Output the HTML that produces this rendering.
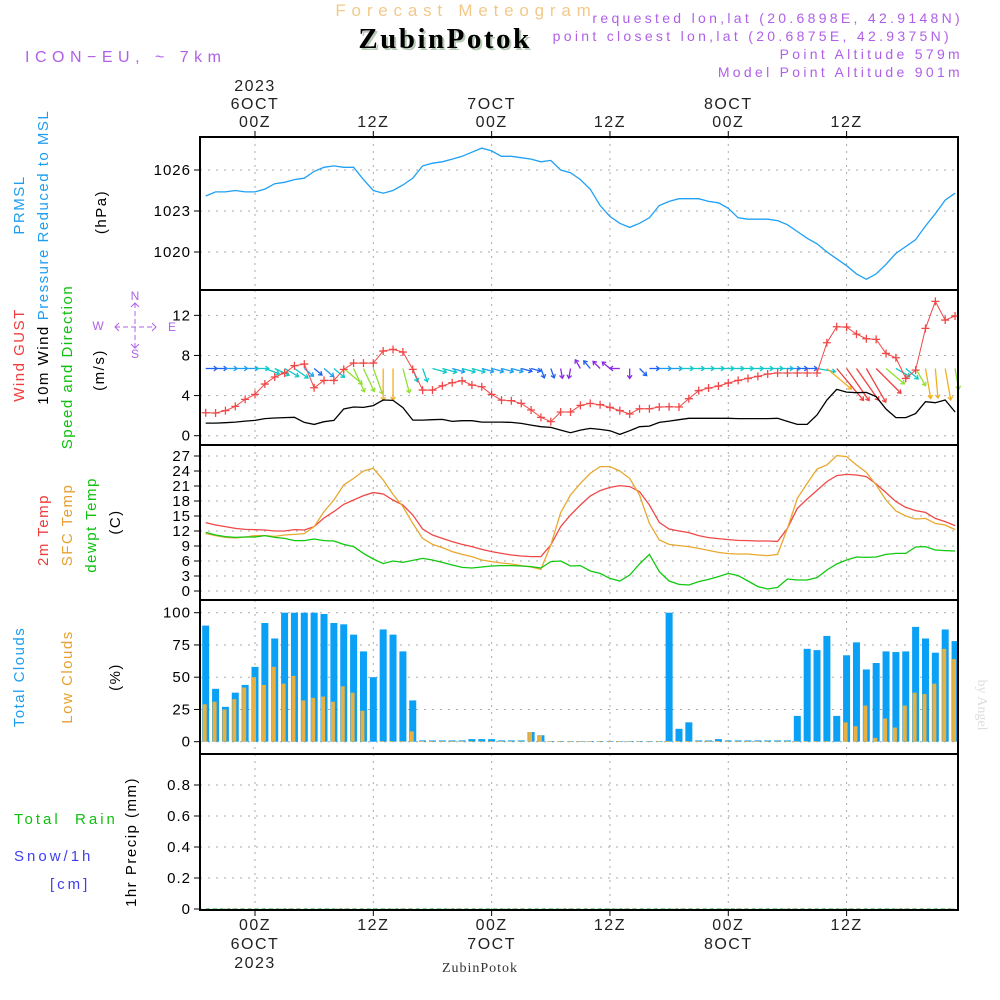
<!DOCTYPE html>
<html><head><meta charset="utf-8"><style>
html,body{margin:0;padding:0;background:#fff;}
svg{display:block;font-family:"Liberation Sans",sans-serif;}
.t{letter-spacing:1.5px;}
</style></head><body>
<svg id="chart" width="1000" height="1000" viewBox="0 0 1000 1000" xmlns="http://www.w3.org/2000/svg">
<rect width="1000" height="1000" fill="#fff"/>
<text x="466" y="16" text-anchor="middle" font-size="17" fill="#f2c98a" style="letter-spacing:5.8px">Forecast Meteogram</text>
<text x="447" y="50" text-anchor="middle" font-size="29" font-weight="bold" fill="#b8cbb8" font-family="Liberation Serif,serif" letter-spacing="2.5">ZubinPotok</text>
<text x="445" y="48" text-anchor="middle" font-size="29" font-weight="bold" fill="#000" font-family="Liberation Serif,serif" letter-spacing="2.5">ZubinPotok</text>
<text x="25" y="62" font-size="16" fill="#b060e8" letter-spacing="5.5">ICON−EU, ~ 7km</text>
<g font-size="14" fill="#b060e8" text-anchor="end" letter-spacing="3.3">
<text x="963" y="23">requested lon,lat (20.6898E, 42.9148N)</text>
<text x="952" y="41">point closest lon,lat (20.6875E, 42.9375N)</text>
<text x="963" y="59">Point Altitude 579m</text>
<text x="963" y="77">Model Point Altitude 901m</text>
</g>
<g id="plot"></g>
<g font-size="15" class="t">
<text transform="translate(24,205) rotate(-90)" text-anchor="middle" fill="#1e9ef0">PRMSL</text>
<text transform="translate(48,215) rotate(-90)" text-anchor="middle" fill="#1e9ef0">Pressure Reduced to MSL</text>
<text transform="translate(106,212) rotate(-90)" text-anchor="middle" fill="#000">(hPa)</text>
<text transform="translate(24,355) rotate(-90)" text-anchor="middle" fill="#f03c3c">Wind GUST</text>
<text transform="translate(48,365) rotate(-90)" text-anchor="middle" fill="#000">10m Wind</text>
<text transform="translate(72,367) rotate(-90)" text-anchor="middle" fill="#10c010">Speed and Direction</text>
<text transform="translate(104,370) rotate(-90)" text-anchor="middle" fill="#000">(m/s)</text>
<text transform="translate(48,530) rotate(-90)" text-anchor="middle" fill="#f03c3c">2m Temp</text>
<text transform="translate(72,525) rotate(-90)" text-anchor="middle" fill="#e8a030">SFC Temp</text>
<text transform="translate(96,525) rotate(-90)" text-anchor="middle" fill="#10c010">dewpt Temp</text>
<text transform="translate(120,522) rotate(-90)" text-anchor="middle" fill="#000">(C)</text>
<text transform="translate(24,677) rotate(-90)" text-anchor="middle" fill="#1e9ef0">Total Clouds</text>
<text transform="translate(72,677) rotate(-90)" text-anchor="middle" fill="#e8a030">Low Clouds</text>
<text transform="translate(120,677) rotate(-90)" text-anchor="middle" fill="#000">(%)</text>
<text transform="translate(136,842) rotate(-90)" text-anchor="middle" fill="#000">1hr Precip (mm)</text>
</g>
<g font-size="15" letter-spacing="3">
<text x="14" y="824" fill="#10c010" xml:space="preserve">Total  Rain</text>
<text x="14" y="861" fill="#4040f0">Snow/1h</text>
<text x="50" y="889" fill="#4040f0">[cm]</text>
</g>
<g fill="none" stroke="#b060e8" font-size="12">
<text x="135" y="300" text-anchor="middle" stroke="none" fill="#b060e8">N</text>
<text x="98" y="330" text-anchor="middle" stroke="none" fill="#b060e8">W</text>
<text x="172" y="331" text-anchor="middle" stroke="none" fill="#b060e8">E</text>
<text x="135" y="358" text-anchor="middle" stroke="none" fill="#b060e8">S</text>
<line x1="115" y1="327" x2="156" y2="327" stroke-dasharray="5,3"/>
<line x1="135" y1="303" x2="135" y2="348" stroke-dasharray="5,3"/>
<polyline points="119,323 115,327 119,331"/>
<polyline points="152,323 156,327 152,331"/>
<polyline points="131,307 135,303 139,307"/>
<polyline points="131,344 135,348 139,344"/>
</g>
<text transform="translate(978,705) rotate(90)" text-anchor="middle" font-size="14" fill="#ddd" font-family="Liberation Serif,serif">by Angel</text>
<text x="480" y="972" text-anchor="middle" font-size="14" fill="#333" font-family="Liberation Serif,serif" letter-spacing="1">ZubinPotok</text>
</svg>
<script>
const hours = [];
for (let h = -5; h <= 71; h++) hours.push(h);
const pressure = [1024.1,1024.4,1024.4,1024.5,1024.4,1024.4,1024.6,1025.0,1025.1,1025.3,1025.4,1025.9,1026.2,1026.3,1026.2,1026.2,1025.3,1024.5,1024.3,1024.5,1024.9,1025.4,1026.3,1026.5,1026.6,1026.8,1027.0,1027.3,1027.6,1027.4,1027.0,1027.0,1026.9,1026.8,1026.6,1026.7,1026.0,1025.8,1025.3,1024.6,1023.4,1022.6,1022.1,1021.8,1022.1,1022.5,1023.4,1023.7,1023.9,1023.9,1023.9,1023.7,1023.6,1023.2,1022.5,1022.4,1022.4,1022.4,1022.3,1022.0,1021.5,1021.0,1020.6,1020.0,1019.5,1019.0,1018.4,1018.0,1018.4,1019.1,1019.9,1020.4,1020.9,1021.9,1022.8,1023.8,1024.3];
const wind10 = [1.26,1.26,1.3,1.36,1.46,1.53,1.7,1.76,1.8,1.83,1.33,1.13,1.4,1.53,2.66,2.86,2.82,3.0,3.56,3.52,2.8,1.56,1.56,1.6,1.63,1.43,1.5,1.5,1.36,1.36,1.36,1.33,1.23,1.06,0.9,0.83,0.56,0.3,0.56,0.73,0.63,0.5,0.13,0.5,0.9,0.96,1.33,1.46,1.6,1.73,1.73,1.73,1.73,1.73,1.7,1.7,1.7,1.7,1.73,1.43,1.13,1.13,2.06,3.56,4.62,4.35,4.29,4.32,3.89,2.66,1.8,1.8,2.2,3.39,3.29,3.56,2.36];
const gust = [2.29,2.26,2.5,2.92,3.62,4.12,5.15,5.85,6.25,6.98,7.14,4.78,5.51,5.51,6.61,7.24,7.24,7.24,8.44,8.6,8.34,6.61,4.55,4.55,4.98,5.28,5.48,5.05,4.88,4.12,3.55,3.49,3.22,2.56,1.83,1.4,2.36,2.36,3.02,3.22,3.09,2.82,2.5,2.16,2.69,2.69,2.86,2.89,2.86,3.69,4.49,4.75,4.95,5.25,5.51,5.71,5.91,6.15,6.25,6.25,6.25,6.25,6.25,9.27,10.86,10.83,10.13,9.67,9.6,8.2,7.77,5.71,6.54,10.7,13.39,11.53,11.93];
// wind arrow direction in screen degrees (0 = toward east/right, 90 = toward south/down)
const windDir = [0,0,0,0,0,0,20,25,30,35,40,40,40,40,40,65,65,70,90,90,75,70,70,15,15,15,15,15,15,15,15,15,15,15,70,70,80,100,-120,-130,-135,-140,180,90,45,0,0,0,0,0,0,0,0,0,0,0,0,0,0,0,0,0,10,40,50,55,55,60,45,40,30,40,60,80,85,80,80];
const t2m = [13.67,13.2,12.87,12.53,12.33,12.27,12.2,12.0,12.0,12.27,12.2,12.87,14.6,15.87,17.33,18.2,19.07,19.67,19.4,18.2,17.2,15.2,12.4,11.2,10.53,9.87,9.33,8.87,8.33,7.87,7.53,7.2,7.0,6.87,6.87,9.2,12.87,15.2,17.2,19.0,20.07,20.73,21.07,20.87,19.87,17.2,13.73,12.4,12.0,11.67,11.07,10.67,10.47,10.27,10.13,10.07,10.0,10.0,9.93,12.53,16.53,18.4,20.13,21.87,23.07,23.33,23.2,22.87,21.4,19.67,17.87,16.73,16.07,15.73,14.53,13.87,13.07];
const tsfc = [11.5,11.07,10.73,10.6,10.8,11.07,11.07,10.93,11.2,11.33,11.47,12.87,15.87,18.2,21.2,22.53,24.0,24.53,22.2,19.33,16.87,13.53,10.53,9.33,8.67,7.87,7.33,6.87,6.2,5.87,5.6,5.4,5.07,4.8,4.33,9.2,15.67,19.2,21.53,23.53,24.87,24.87,24.0,22.53,19.2,13.53,10.2,9.33,9.07,8.87,8.53,8.13,7.73,7.47,7.4,7.4,7.2,7.07,7.33,12.53,18.53,21.53,24.4,25.2,27.07,26.87,25.2,23.73,21.2,18.2,16.0,15.0,14.4,14.53,13.53,13.2,12.27];
const dewpt = [11.73,11.2,10.87,10.73,10.8,10.8,11.07,10.73,10.53,10.07,10.07,10.4,10.07,10.0,9.33,8.87,7.53,6.4,5.47,6.0,5.73,6.13,6.53,6.2,5.73,5.2,4.73,4.6,4.8,5.0,5.07,5.07,5.0,4.87,4.6,5.87,6.0,5.0,5.07,4.0,3.53,2.53,2.0,3.2,5.4,7.33,3.87,2.0,1.33,1.2,1.87,2.33,2.87,3.53,3.07,2.0,0.87,0.4,0.73,2.4,2.2,2.2,2.67,4.2,5.4,6.2,6.8,6.73,6.8,7.33,7.53,7.53,8.8,8.87,8.2,8.07,8.0];
const totalClouds = [90,41,27,38,44,58,92,80,100,100,100,100,99,92,91,83,70,50,87,83,70,32,1,1,1,1,1,2,2,2,1,1,1,7.5,5,0.5,0.5,0.5,0.5,0.5,0.5,0.5,0.5,0.5,0.5,0.5,0.5,100,10,15,1,1,2,1,1,1,1,1,1,1,20,72,71,82,20,67,77,56,61,70,69.5,70,89,80,69,87,78];
const lowClouds = [29,31,25,33,42,50,44,58,45,51,32,34,35,31,43,38,24,0,0.5,0.5,0.5,8,0.5,0.5,0.5,0.5,0.5,0.5,0.5,0.5,0.5,0.5,0.5,7.5,5,0.5,0.5,0.5,0.5,0.5,0.5,0.5,0.5,0.5,0.5,0.5,0.5,0.5,0.5,0.5,0.5,0.5,0.5,0.5,0.5,0.5,0.5,0.5,0.5,0.5,0.5,0.5,0.5,0.5,0,15,12,28,3,18,11,28,38,37,45,72,64];
const precip = new Array(77).fill(0);
const pTicks = [1020,1023,1026];
const wTicks = [0,4,8,12];
const tTicks = [0,3,6,9,12,15,18,21,24,27];
const cTicks = [0,25,50,75,100];
const rTicks = [0,0.2,0.4,0.6,0.8];
const gridHours = [0,12,24,36,48,60];
const topLabels = [["2023","6OCT","00Z"],["","","12Z"],["","7OCT","00Z"],["","","12Z"],["","8OCT","00Z"],["","","12Z"]];

const NS = "http://www.w3.org/2000/svg";
const plot = document.getElementById('plot');
const X0 = 200, X1 = 958;
const xs = h => 255 + h * 9.86;
const panels = [
 {name:'pressure', top:137, bot:290, y: v => 170 + (1026 - v) * 13.667, ticks:pTicks, fmt:v=>String(v)},
 {name:'wind', top:290, bot:445, y: v => 435.7 - v * 10.03, ticks:wTicks, fmt:v=>String(v)},
 {name:'temp', top:445, bot:600, y: v => 591 - v * 5, ticks:tTicks, fmt:v=>String(v)},
 {name:'clouds', top:600, bot:754, y: v => 741.7 - v * 1.29, ticks:cTicks, fmt:v=>String(v)},
 {name:'precip', top:754, bot:910, y: v => 909 - v * 155, ticks:rTicks, fmt:v=>v===0?'0':v.toFixed(1)}
];
function mk(tag, attrs, parent) {
  const e = document.createElementNS(NS, tag);
  for (const k in attrs) e.setAttribute(k, attrs[k]);
  (parent || plot).appendChild(e);
  return e;
}
panels.forEach(p => {
  const g = mk('g', {});
  
  
  gridHours.forEach(h => {
    const l = mk('line', {x1:xs(h), x2:xs(h), y1:p.top, y2:p.bot, stroke:'#aaa', 'stroke-dasharray':'2,5'}, g);
    
    
  });
  p.ticks.forEach(v => {
    const y = p.y(v);
    const l = mk('line', {x1:X0, x2:X1, y1:y, y2:y, stroke:'#aaa', 'stroke-dasharray':'2,6'}, g);
    
    
    mk('line', {x1:194, x2:X0, y1:y, y2:y, stroke:'#000'}, g);
    const t = mk('text', {x:191, y:y+5, 'text-anchor':'end', 'font-size':15, fill:'#000', 'letter-spacing':'1'}, g);
    t.textContent = p.fmt(v);
    
    
  });
});
function line(arr, p, color, name, w) {
  const pts = arr.map((v, i) => xs(hours[i]).toFixed(1) + ',' + p.y(v).toFixed(1)).join(' ');
  const e = mk('polyline', {points:pts, fill:'none', stroke:color, 'stroke-width':w || 1.3});
  
  
  return e;
}
line(pressure, panels[0], '#1ea0f5', 'pressure-line');
function windColor(s) {
  if (s < 0.7) return '#8a2be2';
  if (s < 1.3) return '#1e60f0';
  if (s < 1.5) return '#1e9ef0';
  if (s < 2.2) return '#10c8c8';
  if (s < 3.2) return '#90e030';
  if (s < 3.7) return '#f0b020';
  return '#f04040';
}
windDir.forEach((d, i) => {
  const s = wind10[i];
  const L = Math.max(10, s * 9);
  const x = xs(hours[i]), y = panels[1].y(6.7);
  const a = d * Math.PI / 180;
  const x2 = x + L * Math.cos(a), y2 = y + L * Math.sin(a);
  const c = windColor(s);
  const g = mk('g', {stroke:c, 'stroke-width':1.3, fill:'none'});
  
  
  mk('line', {x1:x, y1:y, x2:x2, y2:y2}, g);
  const h1 = a + Math.PI * 0.8, h2 = a - Math.PI * 0.8;
  mk('polyline', {points:`${x2+4*Math.cos(h1)},${y2+4*Math.sin(h1)} ${x2},${y2} ${x2+4*Math.cos(h2)},${y2+4*Math.sin(h2)}`}, g);
});
line(wind10, panels[1], '#000', 'wind10-line');
line(gust, panels[1], '#f04848', 'gust-line', 1);
gust.forEach((v, i) => {
  const x = xs(hours[i]), y = panels[1].y(v);
  const m = mk('path', {d:`M${x-4},${y}H${x+4}M${x},${y-4}V${y+4}`, stroke:'#f04848', 'stroke-width':1.3});
  
  
});
line(t2m, panels[2], '#f04848', 't2m-line');
line(tsfc, panels[2], '#e8a830', 'tsfc-line');
line(dewpt, panels[2], '#10c810', 'dewpt-line');
totalClouds.forEach((v, i) => {
  const x = xs(hours[i]), y = panels[3].y(v);
  const r = mk('rect', {x:Math.max(X0, x-3.5), y:y, width:x-3.5<X0?x+3.5-X0:7, height:panels[3].y(0)-y, fill:'#0aa0f5'});
  
  
});
lowClouds.forEach((v, i) => {
  const x = xs(hours[i]), y = panels[3].y(v);
  const r = mk('rect', {x:Math.max(X0, x-3), y:y, width:x-3<X0?x+1-X0:4, height:panels[3].y(0)-y, fill:'#e8b040'});
  
  
});
line(precip, panels[4], '#10a010', 'precip-line', 1).setAttribute('stroke-dasharray', '4,3');
panels.forEach(p => {
  const r = mk('rect', {x:X0, y:p.top, width:X1-X0, height:p.bot-p.top, fill:'none', stroke:'#000', 'stroke-width':2});
  
  
});
gridHours.forEach((h, j) => {
  const x = xs(h);
  mk('line', {x1:x, x2:x, y1:131, y2:137, stroke:'#000'});
  mk('line', {x1:x, x2:x, y1:910, y2:916, stroke:'#000'});
  const lab = topLabels[j];
  [86, 104, 122].forEach((y, k) => {
    if (!lab[k]) return;
    const t = mk('text', {x:x, y:y+5, 'text-anchor':'middle', 'font-size':16, fill:'#222', 'letter-spacing':'1.5'});
    t.textContent = lab[k];
    
    
  });
  const bl = [lab[2], lab[1], lab[0]];
  [924, 943, 962].forEach((y, k) => {
    if (!bl[k]) return;
    const t = mk('text', {x:x, y:y+6, 'text-anchor':'middle', 'font-size':16, fill:'#222', 'letter-spacing':'1.5'});
    t.textContent = bl[k];
    
    
  });
});
</script>
</body></html>
